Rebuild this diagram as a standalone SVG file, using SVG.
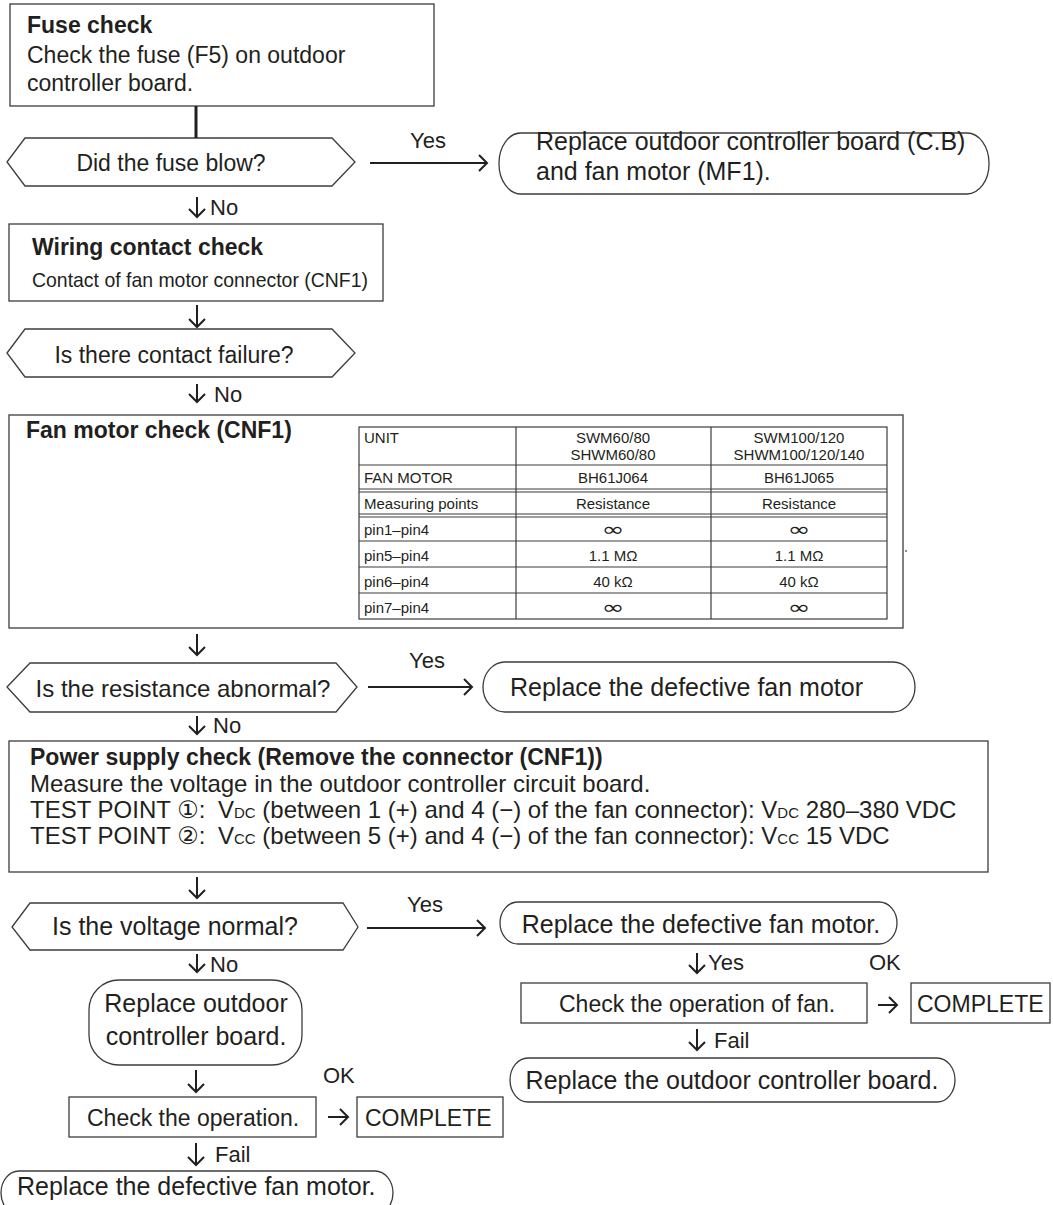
<svg xmlns="http://www.w3.org/2000/svg" width="1053" height="1205" viewBox="0 0 1053 1205">
<style>
.t{font-family:"Liberation Sans",Arial,"DejaVu Sans","Noto Sans CJK JP",sans-serif;fill:#231f20;font-size:23px}
.b{font-weight:bold}
.m{text-anchor:middle}
.s{font-size:15px}
.f25{font-size:25px}
.f24{font-size:24px}
.f22{font-size:22px}
.f21{font-size:21px}
.f15{font-size:15px}
.inf{font-family:"DejaVu Sans",sans-serif;font-size:19px;fill:#231f20;text-anchor:middle}
.box{fill:#fff;stroke:#3c3c3c;stroke-width:1.3}
.tb{fill:none;stroke:#3c3c3c;stroke-width:1.2}
.ln{fill:none;stroke:#231f20;stroke-width:2}
</style>
<defs>
<marker id="ah" viewBox="-10 -10 12 20" refX="0" refY="0" markerWidth="12" markerHeight="20" markerUnits="userSpaceOnUse" orient="auto">
<path d="M-8,-8 L0,0 L-8,8" fill="none" stroke="#231f20" stroke-width="2" stroke-linejoin="miter"/>
</marker>
</defs>
<rect width="1053" height="1205" fill="#fff"/>

<g id="fuse-check">
<rect class="box" x="10" y="4" width="424" height="102"/>
<text class="t b" x="27" y="33">Fuse check</text>
<text class="t" x="27" y="63">Check the fuse (F5) on outdoor</text>
<text class="t" x="27" y="91">controller board.</text>
</g>

<g id="fuse-blow">
<polygon class="box" points="7,162 25,138 332,138 355,162 332,186 25,186"/>
<text class="t m" x="171" y="171">Did the fuse blow?</text>
</g>

<g id="replace-cb-mf1">
<rect class="box" x="499" y="133" width="490" height="61" rx="22" ry="30"/>
<text class="t f25" x="536" y="150">Replace outdoor controller board (C.B)</text>
<text class="t f25" x="536" y="180">and fan motor (MF1).</text>
</g>

<g id="wiring-check">
<rect class="box" x="9" y="224" width="374" height="77"/>
<text class="t b" x="32" y="255">Wiring contact check</text>
<text class="t f21" x="32" y="287" textLength="336" lengthAdjust="spacingAndGlyphs">Contact of fan motor connector (CNF1)</text>
</g>

<g id="contact-failure">
<polygon class="box" points="7,353 25,329 332,329 355,353 332,377 25,377"/>
<text class="t m" x="174" y="363">Is there contact failure?</text>
</g>

<g id="fan-motor-check">
<rect class="box" x="9" y="415" width="894" height="213"/>
<text class="t b" x="26" y="438">Fan motor check (CNF1)</text>
<rect class="tb" x="359" y="427" width="528" height="192"/>
<path class="tb" d="M359,465H887 M359,489H887 M359,492H887 M359,514H887 M359,517H887 M359,541H887 M359,567H887 M359,593H887 M516,427V619 M711,427V619"/>
<g class="t f15">
<text x="364" y="443">UNIT</text>
<text class="m" x="613" y="443">SWM60/80</text>
<text class="m" x="613" y="460">SHWM60/80</text>
<text class="m" x="799" y="443">SWM100/120</text>
<text class="m" x="799" y="460">SHWM100/120/140</text>
<text x="364" y="483">FAN MOTOR</text>
<text class="m" x="613" y="483">BH61J064</text>
<text class="m" x="799" y="483">BH61J065</text>
<text x="364" y="509">Measuring points</text>
<text class="m" x="613" y="509">Resistance</text>
<text class="m" x="799" y="509">Resistance</text>
<text x="364" y="535">pin1–pin4</text>
<text x="364" y="561">pin5–pin4</text>
<text class="m" x="613" y="561">1.1 MΩ</text>
<text class="m" x="799" y="561">1.1 MΩ</text>
<text x="364" y="587">pin6–pin4</text>
<text class="m" x="613" y="587">40 kΩ</text>
<text class="m" x="799" y="587">40 kΩ</text>
<text x="364" y="613">pin7–pin4</text>
</g>
<g>
<text class="inf" x="613" y="536" textLength="23" lengthAdjust="spacingAndGlyphs">∞</text>
<text class="inf" x="799" y="536" textLength="23" lengthAdjust="spacingAndGlyphs">∞</text>
<text class="inf" x="613" y="614" textLength="23" lengthAdjust="spacingAndGlyphs">∞</text>
<text class="inf" x="799" y="614" textLength="23" lengthAdjust="spacingAndGlyphs">∞</text>
</g>
<circle cx="906" cy="551" r="0.9" fill="#555"/>
</g>

<g id="resistance-abnormal">
<polygon class="box" points="7,687 30,663 336,663 357,687 336,712 30,712"/>
<text class="t m f24" x="183" y="697">Is the resistance abnormal?</text>
</g>

<g id="replace-fan-motor-1">
<rect class="box" x="483" y="662" width="432" height="50" rx="22" ry="25"/>
<text class="t f25" x="510" y="696">Replace the defective fan motor</text>
</g>

<g id="power-supply-check">
<rect class="box" x="9" y="741" width="979" height="131"/>
<text class="t b" x="30" y="765">Power supply check (Remove the connector (CNF1))</text>
<text class="t f24" x="30" y="792">Measure the voltage in the outdoor controller circuit board.</text>
<text class="t f24" x="30" y="818">TEST POINT ①: <tspan dx="6">V</tspan><tspan class="s">DC</tspan> (between 1 (+) and 4 (−) of the fan connector): V<tspan class="s">DC</tspan> 280–380 VDC</text>
<text class="t f24" x="30" y="844">TEST POINT ②: <tspan dx="6">V</tspan><tspan class="s">CC</tspan> (between 5 (+) and 4 (−) of the fan connector): V<tspan class="s">CC</tspan> 15 VDC</text>
</g>

<g id="voltage-normal">
<polygon class="box" points="12,927 30,903 343,903 358,927 343,950 30,950"/>
<text class="t m f25" x="175" y="935">Is the voltage normal?</text>
</g>

<g id="replace-fan-motor-2">
<rect class="box" x="500" y="902" width="397" height="42" rx="18" ry="21"/>
<text class="t m f25" x="701" y="933">Replace the defective fan motor.</text>
</g>

<g id="check-fan-operation">
<rect class="box" x="521" y="983" width="346" height="40"/>
<text class="t" x="559" y="1012">Check the operation of fan.</text>
</g>

<g id="complete-2">
<rect class="box" x="911" y="983" width="139" height="40"/>
<text class="t" x="917" y="1012">COMPLETE</text>
</g>

<g id="replace-cb-2">
<rect class="box" x="510" y="1058" width="445" height="44" rx="18" ry="22"/>
<text class="t m f25" x="732" y="1089">Replace the outdoor controller board.</text>
</g>

<g id="replace-cb-1">
<rect class="box" x="89" y="980" width="213" height="85" rx="30" ry="30"/>
<text class="t m f25" x="196" y="1012">Replace outdoor</text>
<text class="t m f25" x="196" y="1045">controller board.</text>
</g>

<g id="check-operation">
<rect class="box" x="69" y="1097" width="247" height="40"/>
<text class="t" x="87" y="1126">Check the operation.</text>
</g>

<g id="complete-1">
<rect class="box" x="357" y="1097" width="146" height="40"/>
<text class="t" x="365" y="1126">COMPLETE</text>
</g>

<g id="replace-fan-motor-3">
<rect class="box" x="1" y="1171" width="392" height="44" rx="18" ry="22"/>
<text class="t f25" x="17" y="1195">Replace the defective fan motor.</text>
</g>

<g id="connectors">
<line x1="196" y1="106" x2="196" y2="138" stroke="#231f20" stroke-width="3"/>
<line class="ln" x1="370" y1="163" x2="487" y2="163" marker-end="url(#ah)"/>
<line class="ln" x1="197" y1="197" x2="197" y2="217" marker-end="url(#ah)"/>
<line class="ln" x1="197" y1="305" x2="197" y2="327" marker-end="url(#ah)"/>
<line class="ln" x1="197" y1="384" x2="197" y2="402" marker-end="url(#ah)"/>
<line class="ln" x1="197" y1="634" x2="197" y2="655" marker-end="url(#ah)"/>
<line class="ln" x1="368" y1="687" x2="472" y2="687" marker-end="url(#ah)"/>
<line class="ln" x1="197" y1="716" x2="197" y2="734" marker-end="url(#ah)"/>
<line class="ln" x1="197" y1="877" x2="197" y2="898" marker-end="url(#ah)"/>
<line class="ln" x1="367" y1="928" x2="485" y2="928" marker-end="url(#ah)"/>
<line class="ln" x1="197" y1="954" x2="197" y2="972" marker-end="url(#ah)"/>
<line class="ln" x1="697" y1="953" x2="697" y2="973" marker-end="url(#ah)"/>
<line class="ln" x1="878" y1="1005" x2="897" y2="1005" marker-end="url(#ah)"/>
<line class="ln" x1="697" y1="1029" x2="697" y2="1050" marker-end="url(#ah)"/>
<line class="ln" x1="196" y1="1070" x2="196" y2="1092" marker-end="url(#ah)"/>
<line class="ln" x1="328" y1="1117" x2="348" y2="1117" marker-end="url(#ah)"/>
<line class="ln" x1="196" y1="1143" x2="196" y2="1165" marker-end="url(#ah)"/>
<g class="t f22">
<text x="410" y="148">Yes</text>
<text x="210" y="215">No</text>
<text x="214" y="402">No</text>
<text x="409" y="668">Yes</text>
<text x="213" y="733">No</text>
<text x="407" y="912">Yes</text>
<text x="210" y="972">No</text>
<text x="708" y="970">Yes</text>
<text x="869" y="970">OK</text>
<text x="714" y="1048">Fail</text>
<text x="323" y="1083">OK</text>
<text x="215" y="1162">Fail</text>
</g>
</g>
</svg>
